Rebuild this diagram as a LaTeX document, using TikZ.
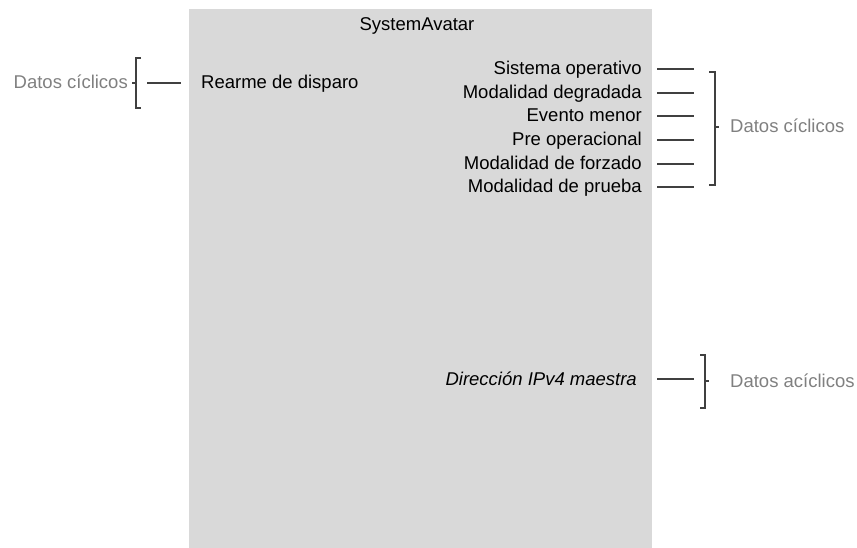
\documentclass[tikz,border=0pt]{standalone}
\usepackage{fontspec}
\setmainfont{Liberation Sans}
\usetikzlibrary{positioning,calc}
\definecolor{AvatarGray}{RGB}{217,217,217}
\definecolor{LineGray}{RGB}{64,64,64}
\definecolor{NoteGray}{RGB}{128,128,128}

\begin{document}
\begin{tikzpicture}[
    x=1pt,y=-1pt,
    txt/.style={inner sep=0pt,text height=15pt,text depth=3pt,
      font=\fontsize{18.5}{22}\selectfont},
    field/.style={txt,anchor=east},
    note/.style={txt,anchor=west,text=NoteGray},
    tick/.style={draw=LineGray,line width=2pt},
    brace/.style={draw=LineGray,line width=1.6pt}
  ]
  \useasboundingbox (0,0) rectangle (857,548);
  \fill[AvatarGray] (189,9) rectangle (652,548);
  \node[txt] (title) at (417,25) {SystemAvatar};
  % cyclic input
  \node[txt,anchor=west] (rearme) at (201,83) {Rearme de disparo};
  \node[txt,anchor=east,text=NoteGray] (incyc) at (128,83) {Datos cíclicos};
  \coordinate (inbr) at (136,83);
  \draw[brace] ($(inbr)+(5,-25)$) -- ($(inbr)+(0,-25)$) -- ($(inbr)+(0,25)$)
    -- ($(inbr)+(5,25)$);
  \draw[brace] (inbr) -- ++(-4,0);
  \draw[tick] ($(inbr)+(11,0)$) -- ($(rearme.west)+(-20,0)$);
  % cyclic outputs
  \node[field] (so) at (642,69) {Sistema operativo};
  \node[field] (deg) at (642,93) {Modalidad degradada};
  \node[field] (ev) at (642,116) {Evento menor};
  \node[field] (preop) at (642,140) {Pre operacional};
  \node[field] (forz) at (642,164) {Modalidad de forzado};
  \node[field] (prueba) at (642,187) {Modalidad de prueba};
  \draw[tick] ($(so.east)+(15,0)$) -- ++(37,0);
  \draw[tick] ($(deg.east)+(15,0)$) -- ++(37,0);
  \draw[tick] ($(ev.east)+(15,0)$) -- ++(37,0);
  \draw[tick] ($(preop.east)+(15,0)$) -- ++(37,0);
  \draw[tick] ($(forz.east)+(15,0)$) -- ++(37,0);
  \draw[tick] ($(prueba.east)+(15,0)$) -- ++(37,0);
  \node[note] (outcyc) at (730,127) {Datos cíclicos};
  \coordinate (outbr) at (715,127);
  \draw[brace] ($(outbr)+(-6,-55)$) -- ($(outbr)+(0,-55)$) -- ($(outbr)+(0,58)$)
    -- ($(outbr)+(-6,58)$);
  \draw[brace] (outbr) -- ++(4,0);
  % acyclic output
  \node[field,font=\fontsize{18.5}{22}\selectfont\itshape] (ipv4) at (637,379)
    {Dirección IPv4 maestra};
  \draw[tick] ($(ipv4.east)+(20,0)$) -- ++(37,0);
  \node[note] (outacyc) at (730,381) {Datos acíclicos};
  \coordinate (acbr) at (705,381);
  \draw[brace] ($(acbr)+(-5,-26)$) -- ($(acbr)+(0,-26)$) -- ($(acbr)+(0,27)$)
    -- ($(acbr)+(-5,27)$);
  \draw[brace] (acbr) -- ++(4,0);
\end{tikzpicture}
\end{document}
